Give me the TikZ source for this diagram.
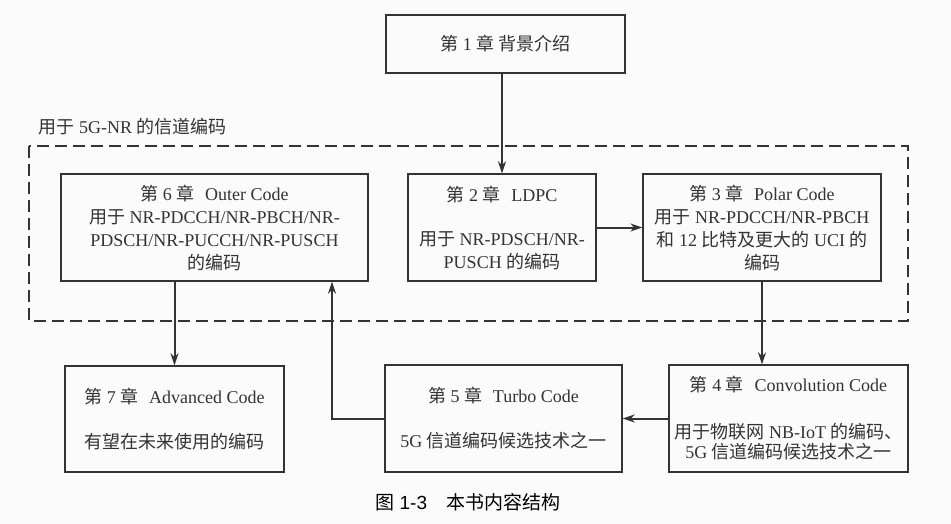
\documentclass[tikz,border=0pt]{standalone}
\usepackage{fontspec}
\setmainfont{Liberation Serif}
\newfontfamily\cjk{Noto Sans CJK SC}
\newfontfamily\capfont{Liberation Sans}
\usetikzlibrary{arrows.meta,positioning,calc}
\definecolor{cline}{HTML}{333333}
\definecolor{cbg}{HTML}{FBFBFB}
\newcommand{\zh}[1]{{\cjk #1}}

\begin{document}
\begin{tikzpicture}[
    x=1pt, y=-1pt,
    box/.style={draw=cline, line width=1.3pt, align=center, inner sep=0pt, text=cline,
        font=\fontsize{18}{23}\selectfont},
    arr/.style={draw=cline, line width=2pt, -{Stealth[length=12pt,width=8pt]}},
]
\fill[cbg] (0,0) rectangle (951,524);
\useasboundingbox (0,0) rectangle (951,524);

% --- Chapter 1 (top) ---
\node[box, minimum width=239pt, minimum height=58pt] (ch1) at (505.5,44)
    {\zh{第} 1 \zh{章} \zh{背景介绍}};

% --- 5G-NR region ---
\draw[cline, line width=1.8pt, dash pattern=on 12pt off 6pt] (29,146) rectangle (908,321);
\node[anchor=west, text=cline, font=\fontsize{18}{23}\selectfont] (nrlbl) at (35,127)
    {\zh{用于} 5G-NR \zh{的信道编码}};

\node[box, minimum width=307pt, minimum height=107pt] (ch6) at (214.5,227.5)
    {\zh{第} 6 \zh{章}\hspace{.6em}Outer Code\\
     \zh{用于} NR-PDCCH/NR-PBCH/NR-\\
     PDSCH/NR-PUCCH/NR-PUSCH\\
     \zh{的编码}};
\node[box, minimum width=188pt, minimum height=107pt] (ch2) at (502,227.5)
    {\zh{第} 2 \zh{章}\hspace{.6em}LDPC\\[21pt]
     \zh{用于} NR-PDSCH/NR-\\
     PUSCH \zh{的编码}};
\node[box, minimum width=238pt, minimum height=107pt] (ch3) at (762,227.5)
    {\zh{第} 3 \zh{章}\hspace{.6em}Polar Code\\
     \zh{用于} NR-PDCCH/NR-PBCH\\
     \zh{和} 12 \zh{比特及更大的} UCI \zh{的}\\
     \zh{编码}};

% --- bottom row ---
\node[box, minimum width=239pt, minimum height=107pt] (ch4) at (788.5,418.5)
    {\zh{第} 4 \zh{章}\hspace{.6em}Convolution Code\\[24pt]
     \zh{用于物联网} NB-IoT \zh{的编码、}\\[-3pt]
     5G \zh{信道编码候选技术之一}};
\node[box, minimum width=237pt, minimum height=107pt] (ch5) at (503.5,418.5)
    {\zh{第} 5 \zh{章}\hspace{.6em}Turbo Code\\[22pt]
     5G \zh{信道编码候选技术之一}};
\node[box, minimum width=219pt, minimum height=106pt] (ch7) at (174.5,419)
    {\zh{第} 7 \zh{章}\hspace{.6em}Advanced Code\\[22pt]
     \zh{有望在未来使用的编码}};

% --- connectors ---
\draw[arr] (ch1.south -| ch2.north) -- (ch2.north);
\draw[arr] (ch2.east) -- (ch3.west);
\draw[arr] (ch3.south) -- (ch3.south |- ch4.north);
\draw[arr] (ch4.west) -- (ch5.east);
\draw[arr] (ch5.west) -| ([xshift=117.5pt]ch6.south);
\draw[arr] (ch7.north |- ch6.south) -- (ch7.north);

% caption
\node[font=\fontsize{19}{23}\selectfont, text=black] (cap) at (468,502)
    {\zh{图} {\capfont 1-3}\zh{　本书内容结构}};

\end{tikzpicture}
\end{document}
